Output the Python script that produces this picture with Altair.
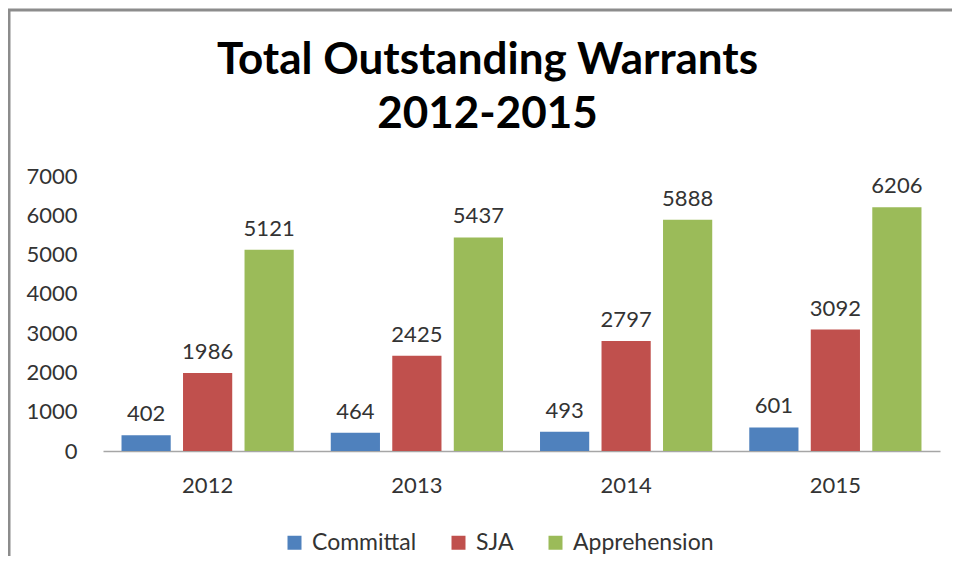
import altair as alt
import pandas as pd

years = ["2012", "2013", "2014", "2015"]
series = ["Committal", "SJA", "Apprehension"]
committal = [402, 464, 493, 601]
sja = [1986, 2425, 2797, 3092]
apprehension = [5121, 5437, 5888, 6206]
colors = ["#4F81BD", "#C0504D", "#9BBB59"]
y_ticks = [0, 1000, 2000, 3000, 4000, 5000, 6000, 7000]

rows = []
for name, vals in zip(series, [committal, sja, apprehension]):
    for y, v in zip(years, vals):
        rows.append({"year": y, "series": name, "value": v})
df = pd.DataFrame(rows)

FONT = "Lato"
TXT = "#333333"

base = alt.Chart(df).encode(
    x=alt.X(
        "year:N",
        sort=years,
        title=None,
        scale=alt.Scale(paddingInner=0.177, paddingOuter=0.0885),
        axis=alt.Axis(
            labelAngle=0, ticks=False, domainColor="#A6A6A6", domainWidth=1.5,
            labelPadding=24, labelFontSize=22, labelFont=FONT, labelColor=TXT,
        ),
    ),
    xOffset=alt.XOffset("series:N", sort=series, scale=alt.Scale(paddingInner=0.2)),
    y=alt.Y(
        "value:Q",
        title=None,
        scale=alt.Scale(domain=[0, 7000], nice=False),
        axis=alt.Axis(
            values=y_ticks, format="d", domain=False, ticks=False, grid=False,
            labelPadding=26, labelFontSize=22, labelFont=FONT, labelColor=TXT,
        ),
    ),
)

bars = base.mark_bar().encode(
    color=alt.Color(
        "series:N",
        sort=series,
        scale=alt.Scale(domain=series, range=colors),
        legend=alt.Legend(
            title=None, orient="none", legendX=180, legendY=355,
            direction="horizontal", symbolType="square", symbolSize=196,
            symbolStrokeWidth=0, labelFontSize=23, labelFont=FONT,
            labelColor=TXT, columnPadding=30, labelOffset=6,
        ),
    )
)

labels = base.mark_text(
    baseline="alphabetic", dy=-14, fontSize=22, font=FONT, color=TXT
).encode(text="value:Q")

# chart frame: only its top and left edges fall inside the page, as in the reference crop
frame = pd.DataFrame({"k": [0]})
border = alt.Chart(frame).mark_rect(
    fill=None, fillOpacity=0, stroke="#8C8C8C", strokeWidth=3
).encode(
    x=alt.value(-94), x2=alt.value(920), y=alt.value(-166), y2=alt.value(500)
)

chart = alt.layer(border, bars, labels).properties(
    width=837,
    height=275,
    background="white",
    title=alt.TitleParams(
        text=["Total Outstanding Warrants", "2012-2015"],
        fontSize=44, font=FONT, fontWeight="bold", color="black",
        anchor="middle", dx=-34, dy=128, lineHeight=54, offset=0,
    ),
    autosize=alt.AutoSizeParams(type="none"),
    padding={"left": 95, "top": 168, "right": 12, "bottom": 105},
).configure_view(stroke=None, strokeWidth=0)

chart.save("out.html", embed_options={"renderer": "svg", "actions": False})
